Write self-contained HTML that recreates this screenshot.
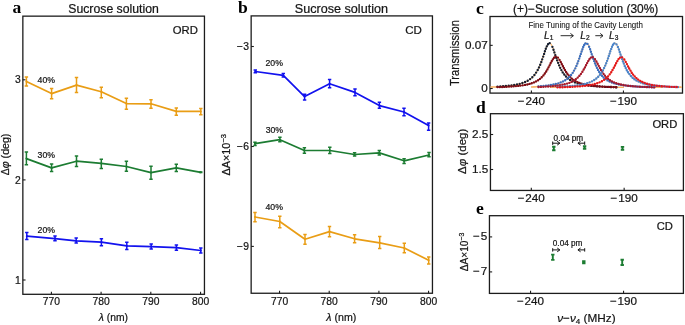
<!DOCTYPE html>
<html><head><meta charset="utf-8"><style>
html,body{margin:0;padding:0;background:#fff;width:685px;height:325px;overflow:hidden;}
svg{display:block;will-change:transform;}
text{font-family:"Liberation Sans",sans-serif;fill:#151515;stroke:#151515;stroke-width:0.22px;}
text.lbl{font-family:"Liberation Serif",serif;font-weight:bold;fill:#000;stroke:none;}
</style></head><body>
<svg width="685" height="325" viewBox="0 0 685 325">
<rect x="22.85" y="16.15" width="181.60" height="278.15" fill="none" stroke="#1c1c1c" stroke-width="1.3"/>
<text x="12.4" y="12.9" font-size="17.6" text-anchor="start" class="lbl">a</text>
<text x="113.55" y="12.8" font-size="12.25" text-anchor="middle" >Sucrose solution</text>
<text x="197.9" y="33.8" font-size="11.3" text-anchor="end" >ORD</text>
<path d="M22.85,79.8H25.55" stroke="#1c1c1c" stroke-width="1.1"/>
<text x="20.65" y="83.40" font-size="10.3" text-anchor="end" >3</text>
<path d="M22.85,179.9H25.55" stroke="#1c1c1c" stroke-width="1.1"/>
<text x="20.65" y="183.50" font-size="10.3" text-anchor="end" >2</text>
<path d="M22.85,280.0H25.55" stroke="#1c1c1c" stroke-width="1.1"/>
<text x="20.65" y="283.60" font-size="10.3" text-anchor="end" >1</text>
<path d="M51.4,294.3V291.7" stroke="#1c1c1c" stroke-width="1.1"/>
<text x="51.4" y="305.3" font-size="10.3" text-anchor="middle" >770</text>
<path d="M101.1,294.3V291.7" stroke="#1c1c1c" stroke-width="1.1"/>
<text x="101.1" y="305.3" font-size="10.3" text-anchor="middle" >780</text>
<path d="M150.8,294.3V291.7" stroke="#1c1c1c" stroke-width="1.1"/>
<text x="150.8" y="305.3" font-size="10.3" text-anchor="middle" >790</text>
<path d="M200.55,294.3V291.7" stroke="#1c1c1c" stroke-width="1.1"/>
<text x="200.55" y="305.3" font-size="10.3" text-anchor="middle" >800</text>
<text x="113.35" y="320.7" font-size="10.3" text-anchor="middle" ><tspan font-style="italic">λ</tspan> (nm)</text>
<text transform="translate(9.3,154.5) rotate(-90)" font-size="10.6" text-anchor="middle">Δ<tspan font-style="italic">φ</tspan> (deg)</text>
<polyline points="26.40,81.50 51.60,93.60 76.50,85.10 101.30,91.80 126.40,103.60 151.00,103.80 176.30,111.40 200.80,111.40" fill="none" stroke="#E99D15" stroke-width="1.7" stroke-linejoin="round"/>
<path d="M26.40,77.00V86.10M24.70,77.00H28.10M24.70,86.10H28.10M51.60,88.50V98.70M49.90,88.50H53.30M49.90,98.70H53.30M76.50,77.60V92.40M74.80,77.60H78.20M74.80,92.40H78.20M101.30,87.20V97.70M99.60,87.20H103.00M99.60,97.70H103.00M126.40,98.20V109.20M124.70,98.20H128.10M124.70,109.20H128.10M151.00,99.70V108.20M149.30,99.70H152.70M149.30,108.20H152.70M176.30,107.90V115.30M174.60,107.90H178.00M174.60,115.30H178.00M200.80,108.40V114.80M199.10,108.40H202.50M199.10,114.80H202.50" fill="none" stroke="#E99D15" stroke-width="1.5"/>
<circle cx="26.40" cy="81.50" r="1.0" fill="#E99D15"/>
<circle cx="51.60" cy="93.60" r="1.0" fill="#E99D15"/>
<circle cx="76.50" cy="85.10" r="1.0" fill="#E99D15"/>
<circle cx="101.30" cy="91.80" r="1.0" fill="#E99D15"/>
<circle cx="126.40" cy="103.60" r="1.0" fill="#E99D15"/>
<circle cx="151.00" cy="103.80" r="1.0" fill="#E99D15"/>
<circle cx="176.30" cy="111.40" r="1.0" fill="#E99D15"/>
<circle cx="200.80" cy="111.40" r="1.0" fill="#E99D15"/>
<polyline points="26.40,158.60 51.60,167.90 76.50,161.20 101.30,163.40 126.40,166.50 151.00,172.60 176.30,167.80 200.80,172.30" fill="none" stroke="#1C7C32" stroke-width="1.7" stroke-linejoin="round"/>
<path d="M26.40,151.90V164.80M24.70,151.90H28.10M24.70,164.80H28.10M51.60,164.10V171.60M49.90,164.10H53.30M49.90,171.60H53.30M76.50,156.10V166.50M74.80,156.10H78.20M74.80,166.50H78.20M101.30,159.20V168.60M99.60,159.20H103.00M99.60,168.60H103.00M126.40,161.20V171.20M124.70,161.20H128.10M124.70,171.20H128.10M151.00,166.30V179.20M149.30,166.30H152.70M149.30,179.20H152.70M176.30,164.30V171.50M174.60,164.30H178.00M174.60,171.50H178.00M200.80,172.10V172.40M199.10,172.10H202.50M199.10,172.40H202.50" fill="none" stroke="#1C7C32" stroke-width="1.5"/>
<circle cx="26.40" cy="158.60" r="1.0" fill="#1C7C32"/>
<circle cx="51.60" cy="167.90" r="1.0" fill="#1C7C32"/>
<circle cx="76.50" cy="161.20" r="1.0" fill="#1C7C32"/>
<circle cx="101.30" cy="163.40" r="1.0" fill="#1C7C32"/>
<circle cx="126.40" cy="166.50" r="1.0" fill="#1C7C32"/>
<circle cx="151.00" cy="172.60" r="1.0" fill="#1C7C32"/>
<circle cx="176.30" cy="167.80" r="1.0" fill="#1C7C32"/>
<circle cx="200.80" cy="172.30" r="1.0" fill="#1C7C32"/>
<polyline points="26.80,236.20 55.00,238.60 76.20,240.80 101.40,242.20 126.80,245.90 151.20,246.60 176.40,247.60 200.80,250.50" fill="none" stroke="#1212EE" stroke-width="1.7" stroke-linejoin="round"/>
<path d="M26.80,232.60V239.40M25.10,232.60H28.50M25.10,239.40H28.50M55.00,235.90V240.70M53.30,235.90H56.70M53.30,240.70H56.70M76.20,238.00V242.90M74.50,238.00H77.90M74.50,242.90H77.90M101.40,238.80V245.70M99.70,238.80H103.10M99.70,245.70H103.10M126.80,242.20V249.40M125.10,242.20H128.50M125.10,249.40H128.50M151.20,243.90V249.10M149.50,243.90H152.90M149.50,249.10H152.90M176.40,245.10V250.30M174.70,245.10H178.10M174.70,250.30H178.10M200.80,248.00V253.10M199.10,248.00H202.50M199.10,253.10H202.50" fill="none" stroke="#1212EE" stroke-width="1.5"/>
<circle cx="26.80" cy="236.20" r="1.0" fill="#1212EE"/>
<circle cx="55.00" cy="238.60" r="1.0" fill="#1212EE"/>
<circle cx="76.20" cy="240.80" r="1.0" fill="#1212EE"/>
<circle cx="101.40" cy="242.20" r="1.0" fill="#1212EE"/>
<circle cx="126.80" cy="245.90" r="1.0" fill="#1212EE"/>
<circle cx="151.20" cy="246.60" r="1.0" fill="#1212EE"/>
<circle cx="176.40" cy="247.60" r="1.0" fill="#1212EE"/>
<circle cx="200.80" cy="250.50" r="1.0" fill="#1212EE"/>
<text x="37.6" y="83.0" font-size="8.7" text-anchor="start" >40%</text>
<text x="37.6" y="158.1" font-size="8.7" text-anchor="start" >30%</text>
<text x="37.6" y="233.4" font-size="8.7" text-anchor="start" >20%</text>
<rect x="251.15" y="15.9" width="181.30" height="277.35" fill="none" stroke="#1c1c1c" stroke-width="1.3"/>
<text x="237.9" y="13.2" font-size="17.6" text-anchor="start" class="lbl">b</text>
<text x="341.4" y="12.8" font-size="12.6" text-anchor="middle" >Sucrose solution</text>
<text x="421.9" y="33.9" font-size="11.5" text-anchor="end" >CD</text>
<path d="M251.15,46.5H253.85" stroke="#1c1c1c" stroke-width="1.1"/>
<text x="248.95" y="50.00" font-size="10.3" text-anchor="end" >−<tspan dx="0.8">3</tspan></text>
<path d="M251.15,146.5H253.85" stroke="#1c1c1c" stroke-width="1.1"/>
<text x="248.95" y="150.00" font-size="10.3" text-anchor="end" >−<tspan dx="0.8">6</tspan></text>
<path d="M251.15,246.4H253.85" stroke="#1c1c1c" stroke-width="1.1"/>
<text x="248.95" y="249.90" font-size="10.3" text-anchor="end" >−<tspan dx="0.8">9</tspan></text>
<path d="M279.55,293.25V290.65" stroke="#1c1c1c" stroke-width="1.1"/>
<text x="279.55" y="305.3" font-size="10.3" text-anchor="middle" >770</text>
<path d="M329.2,293.25V290.65" stroke="#1c1c1c" stroke-width="1.1"/>
<text x="329.2" y="305.3" font-size="10.3" text-anchor="middle" >780</text>
<path d="M378.9,293.25V290.65" stroke="#1c1c1c" stroke-width="1.1"/>
<text x="378.9" y="305.3" font-size="10.3" text-anchor="middle" >790</text>
<path d="M428.55,293.25V290.65" stroke="#1c1c1c" stroke-width="1.1"/>
<text x="428.55" y="305.3" font-size="10.3" text-anchor="middle" >800</text>
<text x="341.3" y="320.8" font-size="10.6" text-anchor="middle" ><tspan font-style="italic">λ</tspan> (nm)</text>
<text transform="translate(230.4,175.6) rotate(-90)" font-size="10.9">ΔA×10<tspan font-size="7.6" dy="-4.2">−3</tspan></text>
<polyline points="255.30,71.50 283.30,75.40 304.60,96.60 329.60,83.80 355.00,92.40 379.40,105.60 404.00,112.00 428.60,125.60" fill="none" stroke="#1212EE" stroke-width="1.7" stroke-linejoin="round"/>
<path d="M255.30,70.10V72.70M253.60,70.10H257.00M253.60,72.70H257.00M283.30,73.50V76.90M281.60,73.50H285.00M281.60,76.90H285.00M304.60,94.30V100.00M302.90,94.30H306.30M302.90,100.00H306.30M329.60,79.40V87.70M327.90,79.40H331.30M327.90,87.70H331.30M355.00,89.10V95.70M353.30,89.10H356.70M353.30,95.70H356.70M379.40,102.30V108.30M377.70,102.30H381.10M377.70,108.30H381.10M404.00,108.30V115.70M402.30,108.30H405.70M402.30,115.70H405.70M428.60,123.10V130.30M426.90,123.10H430.30M426.90,130.30H430.30" fill="none" stroke="#1212EE" stroke-width="1.5"/>
<circle cx="255.30" cy="71.50" r="1.0" fill="#1212EE"/>
<circle cx="283.30" cy="75.40" r="1.0" fill="#1212EE"/>
<circle cx="304.60" cy="96.60" r="1.0" fill="#1212EE"/>
<circle cx="329.60" cy="83.80" r="1.0" fill="#1212EE"/>
<circle cx="355.00" cy="92.40" r="1.0" fill="#1212EE"/>
<circle cx="379.40" cy="105.60" r="1.0" fill="#1212EE"/>
<circle cx="404.00" cy="112.00" r="1.0" fill="#1212EE"/>
<circle cx="428.60" cy="125.60" r="1.0" fill="#1212EE"/>
<polyline points="255.00,143.70 279.90,139.70 304.40,150.50 329.80,150.50 354.60,154.50 379.30,152.90 404.10,160.80 429.00,155.00" fill="none" stroke="#1C7C32" stroke-width="1.7" stroke-linejoin="round"/>
<path d="M255.00,142.30V145.40M253.30,142.30H256.70M253.30,145.40H256.70M279.90,137.30V141.80M278.20,137.30H281.60M278.20,141.80H281.60M304.40,147.80V153.20M302.70,147.80H306.10M302.70,153.20H306.10M329.80,147.30V153.50M328.10,147.30H331.50M328.10,153.50H331.50M354.60,152.80V156.00M352.90,152.80H356.30M352.90,156.00H356.30M379.30,150.50V155.00M377.60,150.50H381.00M377.60,155.00H381.00M404.10,158.80V163.40M402.40,158.80H405.80M402.40,163.40H405.80M429.00,152.60V156.80M427.30,152.60H430.70M427.30,156.80H430.70" fill="none" stroke="#1C7C32" stroke-width="1.5"/>
<circle cx="255.00" cy="143.70" r="1.0" fill="#1C7C32"/>
<circle cx="279.90" cy="139.70" r="1.0" fill="#1C7C32"/>
<circle cx="304.40" cy="150.50" r="1.0" fill="#1C7C32"/>
<circle cx="329.80" cy="150.50" r="1.0" fill="#1C7C32"/>
<circle cx="354.60" cy="154.50" r="1.0" fill="#1C7C32"/>
<circle cx="379.30" cy="152.90" r="1.0" fill="#1C7C32"/>
<circle cx="404.10" cy="160.80" r="1.0" fill="#1C7C32"/>
<circle cx="429.00" cy="155.00" r="1.0" fill="#1C7C32"/>
<polyline points="255.00,217.00 279.80,221.50 305.00,239.20 329.50,231.60 354.60,238.80 379.70,242.80 404.30,248.00 428.70,260.30" fill="none" stroke="#E99D15" stroke-width="1.7" stroke-linejoin="round"/>
<path d="M255.00,212.50V221.70M253.30,212.50H256.70M253.30,221.70H256.70M279.80,216.20V227.70M278.10,216.20H281.50M278.10,227.70H281.50M305.00,234.50V244.30M303.30,234.50H306.70M303.30,244.30H306.70M329.50,226.50V236.70M327.80,226.50H331.20M327.80,236.70H331.20M354.60,234.80V242.80M352.90,234.80H356.30M352.90,242.80H356.30M379.70,236.50V248.50M378.00,236.50H381.40M378.00,248.50H381.40M404.30,243.30V252.70M402.60,243.30H406.00M402.60,252.70H406.00M428.70,257.10V263.90M427.00,257.10H430.40M427.00,263.90H430.40" fill="none" stroke="#E99D15" stroke-width="1.5"/>
<circle cx="255.00" cy="217.00" r="1.0" fill="#E99D15"/>
<circle cx="279.80" cy="221.50" r="1.0" fill="#E99D15"/>
<circle cx="305.00" cy="239.20" r="1.0" fill="#E99D15"/>
<circle cx="329.50" cy="231.60" r="1.0" fill="#E99D15"/>
<circle cx="354.60" cy="238.80" r="1.0" fill="#E99D15"/>
<circle cx="379.70" cy="242.80" r="1.0" fill="#E99D15"/>
<circle cx="404.30" cy="248.00" r="1.0" fill="#E99D15"/>
<circle cx="428.70" cy="260.30" r="1.0" fill="#E99D15"/>
<text x="265.5" y="66.3" font-size="8.7" text-anchor="start" >20%</text>
<text x="265.7" y="132.8" font-size="8.7" text-anchor="start" >30%</text>
<text x="265.5" y="209.6" font-size="8.7" text-anchor="start" >40%</text>
<rect x="490.0" y="16.5" width="192.50" height="76.60" fill="none" stroke="#1c1c1c" stroke-width="1.3"/>
<text x="476.0" y="14.0" font-size="17.6" text-anchor="start" class="lbl">c</text>
<text x="585.65" y="12.5" font-size="11.95" text-anchor="middle" >(+)−Sucrose solution (30%)</text>
<text transform="translate(459.4,53.05) rotate(-90) scale(0.89,1)" font-size="12.6" text-anchor="middle">Transmission</text>
<path d="M490.0,45.35H492.7" stroke="#1c1c1c" stroke-width="1.1"/>
<text x="487.80" y="48.65" font-size="11.7" text-anchor="end" >0.07</text>
<path d="M490.0,88.5H492.7" stroke="#1c1c1c" stroke-width="1.1"/>
<text x="487.80" y="91.80" font-size="11.7" text-anchor="end" >0</text>
<path d="M531.4,93.1V90.5" stroke="#1c1c1c" stroke-width="1.1"/>
<text x="531.4" y="104.9" font-size="11.7" text-anchor="middle" >−<tspan dx="0.8">240</tspan></text>
<path d="M623.45,93.1V90.5" stroke="#1c1c1c" stroke-width="1.1"/>
<text x="623.45" y="104.9" font-size="11.7" text-anchor="middle" >−<tspan dx="0.8">190</tspan></text>
<text x="585.7" y="27.6" font-size="8.4" text-anchor="middle" textLength="114.4" lengthAdjust="spacingAndGlyphs" style="stroke-width:0.08px">Fine Tuning of the Cavity Length</text>
<text x="544.0" y="38.9" font-size="10" font-style="italic">L<tspan font-size="6.6" dy="1.3" dx="0.2" font-style="normal">1</tspan></text>
<text x="580.2" y="38.9" font-size="10" font-style="italic">L<tspan font-size="6.6" dy="1.3" dx="0.2" font-style="normal">2</tspan></text>
<text x="609.1" y="38.9" font-size="10" font-style="italic">L<tspan font-size="6.6" dy="1.3" dx="0.2" font-style="normal">3</tspan></text>
<path d="M560.6,35.7H573.2M570.4,33.4L573.4,35.7L570.4,38" stroke="#151515" stroke-width="0.9" fill="none"/>
<path d="M595.3,35.7H602.8M600.2,33.4L603,35.7L600.2,38" stroke="#151515" stroke-width="0.9" fill="none"/>
<clipPath id="cc"><rect x="490.6" y="17.1" width="191.3" height="75.39999999999999"/></clipPath><g clip-path="url(#cc)">
<polyline points="490.0,86.93 490.5,86.92 491.0,86.90 491.5,86.88 492.0,86.85 492.5,86.83 493.0,86.81 493.5,86.79 494.0,86.77 494.5,86.74 495.0,86.72 495.5,86.69 496.0,86.67 496.5,86.64 497.0,86.61 497.5,86.59 498.0,86.56 498.5,86.53 499.0,86.50 499.5,86.47 500.0,86.44 500.5,86.40 501.0,86.37 501.5,86.33 502.0,86.30 502.5,86.26 503.0,86.22 503.5,86.18 504.0,86.14 504.5,86.10 505.0,86.06 505.5,86.01 506.0,85.97 506.5,85.92 507.0,85.87 507.5,85.82 508.0,85.77 508.5,85.71 509.0,85.66 509.5,85.60 510.0,85.54 510.5,85.48 511.0,85.41 511.5,85.35 512.0,85.28 512.5,85.21 513.0,85.13 513.5,85.05 514.0,84.97 514.5,84.89 515.0,84.80 515.5,84.71 516.0,84.62 516.5,84.52 517.0,84.42 517.5,84.31 518.0,84.20 518.5,84.09 519.0,83.97 519.5,83.84 520.0,83.71 520.5,83.57 521.0,83.43 521.5,83.28 522.0,83.12 522.5,82.96 523.0,82.78 523.5,82.60 524.0,82.41 524.5,82.21 525.0,82.00 525.5,81.78 526.0,81.55 526.5,81.30 527.0,81.05 527.5,80.78 528.0,80.49 528.5,80.19 529.0,79.87 529.5,79.53 530.0,79.17 530.5,78.80 531.0,78.40 531.5,77.97 532.0,77.52 532.5,77.05 533.0,76.54 533.5,76.01 534.0,75.44 534.5,74.83 535.0,74.19 535.5,73.50 536.0,72.78 536.5,72.01 537.0,71.19 537.5,70.32 538.0,69.39 538.5,68.41 539.0,67.38 539.5,66.29 540.0,65.13 540.5,63.92 541.0,62.65 541.5,61.32 542.0,59.94 542.5,58.51 543.0,57.04 543.5,55.55 544.0,54.05 544.5,52.55 545.0,51.07 545.5,49.64 546.0,48.28 546.5,47.03 547.0,45.90 547.5,44.94 548.0,44.15 548.5,43.57 549.0,43.22 549.5,43.10 550.0,43.22 550.5,43.57 551.0,44.15 551.5,44.94 552.0,45.90 552.5,47.03 553.0,48.28 553.5,49.64 554.0,51.07 554.5,52.55 555.0,54.05 555.5,55.55 556.0,57.04 556.5,58.51 557.0,59.94 557.5,61.32 558.0,62.65 558.5,63.92 559.0,65.13 559.5,66.29 560.0,67.38 560.5,68.41 561.0,69.39 561.5,70.32 562.0,71.19 562.5,72.01 563.0,72.78 563.5,73.50 564.0,74.19 564.5,74.83 565.0,75.44 565.5,76.01 566.0,76.54 566.5,77.05 567.0,77.52 567.5,77.97 568.0,78.40 568.5,78.80 569.0,79.17 569.5,79.53 570.0,79.87 570.5,80.19 571.0,80.49 571.5,80.78 572.0,81.05 572.5,81.30 573.0,81.55 573.5,81.78 574.0,82.00 574.5,82.21 575.0,82.41 575.5,82.60 576.0,82.78 576.5,82.96 577.0,83.12 577.5,83.28 578.0,83.43 578.5,83.57 579.0,83.71 579.5,83.84 580.0,83.97 580.5,84.09 581.0,84.20 581.5,84.31 582.0,84.42 582.5,84.52 583.0,84.62 583.5,84.71 584.0,84.80 584.5,84.89 585.0,84.97 585.5,85.05 586.0,85.13 586.5,85.21 587.0,85.28 587.5,85.35 588.0,85.41 588.5,85.48 589.0,85.54 589.5,85.60 590.0,85.66 590.5,85.71 591.0,85.77 591.5,85.82 592.0,85.87 592.5,85.92 593.0,85.97 593.5,86.01 594.0,86.06 594.5,86.10 595.0,86.14 595.5,86.18 596.0,86.22 596.5,86.26 597.0,86.30 597.5,86.33 598.0,86.37 598.5,86.40 599.0,86.44 599.5,86.47 600.0,86.50 600.5,86.53 601.0,86.56 601.5,86.59 602.0,86.61 602.5,86.64 603.0,86.67 603.5,86.69 604.0,86.72 604.5,86.74 605.0,86.77 605.5,86.79 606.0,86.81 606.5,86.83 607.0,86.85 607.5,86.88 608.0,86.90 608.5,86.92 609.0,86.93 609.5,86.95 610.0,86.97 610.5,86.99 611.0,87.01 611.5,87.02 612.0,87.04 612.5,87.06 613.0,87.07 613.5,87.09 614.0,87.10 614.5,87.12 615.0,87.13 615.5,87.15 616.0,87.16 616.5,87.18 617.0,87.19 617.5,87.20 618.0,87.22 618.5,87.23 619.0,87.24 619.5,87.25 620.0,87.26 620.5,87.28 621.0,87.29 621.5,87.30 622.0,87.31 622.5,87.32 623.0,87.33 623.5,87.34 624.0,87.35" fill="none" stroke="#f7b46a" stroke-width="1.1"/>
<polyline points="490.0,87.34 490.5,87.33 491.0,87.31 491.5,87.30 492.0,87.29 492.5,87.28 493.0,87.26 493.5,87.25 494.0,87.24 494.5,87.22 495.0,87.21 495.5,87.20 496.0,87.18 496.5,87.17 497.0,87.15 497.5,87.13 498.0,87.12 498.5,87.10 499.0,87.09 499.5,87.07 500.0,87.05 500.5,87.03 501.0,87.01 501.5,86.99 502.0,86.97 502.5,86.95 503.0,86.93 503.5,86.91 504.0,86.89 504.5,86.87 505.0,86.84 505.5,86.82 506.0,86.79 506.5,86.77 507.0,86.74 507.5,86.72 508.0,86.69 508.5,86.66 509.0,86.63 509.5,86.60 510.0,86.57 510.5,86.54 511.0,86.50 511.5,86.47 512.0,86.43 512.5,86.40 513.0,86.36 513.5,86.32 514.0,86.28 514.5,86.24 515.0,86.20 515.5,86.15 516.0,86.11 516.5,86.06 517.0,86.01 517.5,85.96 518.0,85.90 518.5,85.85 519.0,85.79 519.5,85.73 520.0,85.67 520.5,85.61 521.0,85.54 521.5,85.48 522.0,85.40 522.5,85.33 523.0,85.25 523.5,85.17 524.0,85.09 524.5,85.00 525.0,84.91 525.5,84.82 526.0,84.72 526.5,84.62 527.0,84.51 527.5,84.40 528.0,84.28 528.5,84.16 529.0,84.03 529.5,83.90 530.0,83.76 530.5,83.61 531.0,83.45 531.5,83.29 532.0,83.12 532.5,82.94 533.0,82.75 533.5,82.55 534.0,82.35 534.5,82.13 535.0,81.90 535.5,81.65 536.0,81.40 536.5,81.12 537.0,80.84 537.5,80.54 538.0,80.22 538.5,79.88 539.0,79.52 539.5,79.14 540.0,78.74 540.5,78.32 541.0,77.87 541.5,77.40 542.0,76.90 542.5,76.37 543.0,75.81 543.5,75.21 544.0,74.59 544.5,73.93 545.0,73.23 545.5,72.50 546.0,71.73 546.5,70.93 547.0,70.09 547.5,69.22 548.0,68.31 548.5,67.38 549.0,66.42 549.5,65.45 550.0,64.47 550.5,63.48 551.0,62.51 551.5,61.57 552.0,60.66 552.5,59.80 553.0,59.02 553.5,58.32 554.0,57.72 554.5,57.24 555.0,56.89 555.5,56.67 556.0,56.60 556.5,56.67 557.0,56.89 557.5,57.24 558.0,57.72 558.5,58.32 559.0,59.02 559.5,59.80 560.0,60.66 560.5,61.57 561.0,62.51 561.5,63.48 562.0,64.47 562.5,65.45 563.0,66.42 563.5,67.38 564.0,68.31 564.5,69.22 565.0,70.09 565.5,70.93 566.0,71.73 566.5,72.50 567.0,73.23 567.5,73.93 568.0,74.59 568.5,75.21 569.0,75.81 569.5,76.37 570.0,76.90 570.5,77.40 571.0,77.87 571.5,78.32 572.0,78.74 572.5,79.14 573.0,79.52 573.5,79.88 574.0,80.22 574.5,80.54 575.0,80.84 575.5,81.12 576.0,81.40 576.5,81.65 577.0,81.90 577.5,82.13 578.0,82.35 578.5,82.55 579.0,82.75 579.5,82.94 580.0,83.12 580.5,83.29 581.0,83.45 581.5,83.61 582.0,83.76 582.5,83.90 583.0,84.03 583.5,84.16 584.0,84.28 584.5,84.40 585.0,84.51 585.5,84.62 586.0,84.72 586.5,84.82 587.0,84.91 587.5,85.00 588.0,85.09 588.5,85.17 589.0,85.25 589.5,85.33 590.0,85.40 590.5,85.48 591.0,85.54 591.5,85.61 592.0,85.67 592.5,85.73 593.0,85.79 593.5,85.85 594.0,85.90 594.5,85.96 595.0,86.01 595.5,86.06 596.0,86.11 596.5,86.15 597.0,86.20 597.5,86.24 598.0,86.28 598.5,86.32 599.0,86.36 599.5,86.40 600.0,86.43 600.5,86.47 601.0,86.50 601.5,86.54 602.0,86.57 602.5,86.60 603.0,86.63 603.5,86.66 604.0,86.69 604.5,86.72 605.0,86.74 605.5,86.77 606.0,86.79 606.5,86.82 607.0,86.84 607.5,86.87 608.0,86.89 608.5,86.91 609.0,86.93 609.5,86.95 610.0,86.97 610.5,86.99 611.0,87.01 611.5,87.03 612.0,87.05 612.5,87.07 613.0,87.09 613.5,87.10 614.0,87.12 614.5,87.13 615.0,87.15 615.5,87.17 616.0,87.18 616.5,87.20 617.0,87.21 617.5,87.22 618.0,87.24 618.5,87.25 619.0,87.26 619.5,87.28 620.0,87.29 620.5,87.30 621.0,87.31 621.5,87.33 622.0,87.34 622.5,87.35 623.0,87.36 623.5,87.37 624.0,87.38" fill="none" stroke="#f7b46a" stroke-width="1.1"/>
<polyline points="531.0,86.75 531.5,86.73 532.0,86.70 532.5,86.68 533.0,86.65 533.5,86.63 534.0,86.60 534.5,86.57 535.0,86.54 535.5,86.51 536.0,86.48 536.5,86.45 537.0,86.42 537.5,86.38 538.0,86.35 538.5,86.31 539.0,86.28 539.5,86.24 540.0,86.20 540.5,86.16 541.0,86.12 541.5,86.08 542.0,86.03 542.5,85.99 543.0,85.94 543.5,85.89 544.0,85.84 544.5,85.79 545.0,85.74 545.5,85.68 546.0,85.62 546.5,85.56 547.0,85.50 547.5,85.44 548.0,85.37 548.5,85.31 549.0,85.24 549.5,85.16 550.0,85.09 550.5,85.01 551.0,84.92 551.5,84.84 552.0,84.75 552.5,84.66 553.0,84.56 553.5,84.46 554.0,84.36 554.5,84.25 555.0,84.13 555.5,84.02 556.0,83.89 556.5,83.76 557.0,83.63 557.5,83.49 558.0,83.34 558.5,83.18 559.0,83.02 559.5,82.85 560.0,82.68 560.5,82.49 561.0,82.29 561.5,82.09 562.0,81.87 562.5,81.64 563.0,81.40 563.5,81.15 564.0,80.89 564.5,80.61 565.0,80.31 565.5,80.00 566.0,79.67 566.5,79.32 567.0,78.95 567.5,78.56 568.0,78.15 568.5,77.71 569.0,77.24 569.5,76.75 570.0,76.22 570.5,75.67 571.0,75.08 571.5,74.45 572.0,73.78 572.5,73.07 573.0,72.32 573.5,71.52 574.0,70.67 574.5,69.77 575.0,68.81 575.5,67.80 576.0,66.73 576.5,65.60 577.0,64.41 577.5,63.16 578.0,61.86 578.5,60.50 579.0,59.09 579.5,57.63 580.0,56.15 580.5,54.65 581.0,53.15 581.5,51.66 582.0,50.20 582.5,48.82 583.0,47.52 583.5,46.34 584.0,45.30 584.5,44.44 585.0,43.78 585.5,43.33 586.0,43.12 586.5,43.14 587.0,43.40 587.5,43.89 588.0,44.60 588.5,45.50 589.0,46.56 589.5,47.77 590.0,49.09 590.5,50.49 591.0,51.95 591.5,53.45 592.0,54.95 592.5,56.45 593.0,57.93 593.5,59.37 594.0,60.77 594.5,62.12 595.0,63.42 595.5,64.65 596.0,65.83 596.5,66.95 597.0,68.01 597.5,69.01 598.0,69.95 598.5,70.84 599.0,71.68 599.5,72.48 600.0,73.22 600.5,73.92 601.0,74.58 601.5,75.20 602.0,75.78 602.5,76.33 603.0,76.85 603.5,77.34 604.0,77.80 604.5,78.23 605.0,78.64 605.5,79.03 606.0,79.39 606.5,79.74 607.0,80.06 607.5,80.37 608.0,80.66 608.5,80.94 609.0,81.20 609.5,81.45 610.0,81.69 610.5,81.92 611.0,82.13 611.5,82.33 612.0,82.53 612.5,82.71 613.0,82.89 613.5,83.06 614.0,83.22 614.5,83.37 615.0,83.52 615.5,83.66 616.0,83.79 616.5,83.92 617.0,84.04 617.5,84.16 618.0,84.27 618.5,84.38 619.0,84.48 619.5,84.58 620.0,84.68 620.5,84.77 621.0,84.86 621.5,84.94 622.0,85.02 622.5,85.10 623.0,85.18 623.5,85.25 624.0,85.32 624.5,85.39 625.0,85.45 625.5,85.52 626.0,85.58 626.5,85.64 627.0,85.69 627.5,85.75 628.0,85.80 628.5,85.85 629.0,85.90 629.5,85.95 630.0,86.00 630.5,86.04 631.0,86.08 631.5,86.13 632.0,86.17 632.5,86.21 633.0,86.25 633.5,86.28 634.0,86.32 634.5,86.36 635.0,86.39 635.5,86.42 636.0,86.46 636.5,86.49 637.0,86.52 637.5,86.55 638.0,86.58 638.5,86.60 639.0,86.63 639.5,86.66 640.0,86.68 640.5,86.71 641.0,86.73 641.5,86.76 642.0,86.78 642.5,86.80 643.0,86.82 643.5,86.85 644.0,86.87 644.5,86.89 645.0,86.91 645.5,86.93 646.0,86.95 646.5,86.96 647.0,86.98 647.5,87.00 648.0,87.02 648.5,87.03 649.0,87.05 649.5,87.07 650.0,87.08 650.5,87.10 651.0,87.11 651.5,87.13 652.0,87.14 652.5,87.16 653.0,87.17 653.5,87.18 654.0,87.20 654.5,87.21 655.0,87.22 655.5,87.24 656.0,87.25 656.5,87.26 657.0,87.27 657.5,87.28 658.0,87.29 658.5,87.30 659.0,87.32 659.5,87.33 660.0,87.34 660.5,87.35 661.0,87.36 661.5,87.37 662.0,87.37 662.5,87.38 663.0,87.39" fill="none" stroke="#f7b46a" stroke-width="1.1"/>
<polyline points="531.0,87.23 531.5,87.22 532.0,87.20 532.5,87.19 533.0,87.17 533.5,87.16 534.0,87.14 534.5,87.12 535.0,87.11 535.5,87.09 536.0,87.07 536.5,87.06 537.0,87.04 537.5,87.02 538.0,87.00 538.5,86.98 539.0,86.96 539.5,86.94 540.0,86.92 540.5,86.89 541.0,86.87 541.5,86.85 542.0,86.82 542.5,86.80 543.0,86.77 543.5,86.75 544.0,86.72 544.5,86.69 545.0,86.66 545.5,86.64 546.0,86.60 546.5,86.57 547.0,86.54 547.5,86.51 548.0,86.47 548.5,86.44 549.0,86.40 549.5,86.36 550.0,86.33 550.5,86.28 551.0,86.24 551.5,86.20 552.0,86.16 552.5,86.11 553.0,86.06 553.5,86.01 554.0,85.96 554.5,85.91 555.0,85.85 555.5,85.80 556.0,85.74 556.5,85.67 557.0,85.61 557.5,85.54 558.0,85.48 558.5,85.40 559.0,85.33 559.5,85.25 560.0,85.17 560.5,85.09 561.0,85.00 561.5,84.91 562.0,84.81 562.5,84.71 563.0,84.61 563.5,84.50 564.0,84.39 564.5,84.27 565.0,84.15 565.5,84.02 566.0,83.88 566.5,83.74 567.0,83.59 567.5,83.43 568.0,83.27 568.5,83.09 569.0,82.91 569.5,82.72 570.0,82.52 570.5,82.31 571.0,82.09 571.5,81.85 572.0,81.60 572.5,81.34 573.0,81.07 573.5,80.78 574.0,80.47 574.5,80.14 575.0,79.80 575.5,79.44 576.0,79.05 576.5,78.65 577.0,78.22 577.5,77.76 578.0,77.28 578.5,76.77 579.0,76.23 579.5,75.66 580.0,75.05 580.5,74.42 581.0,73.75 581.5,73.04 582.0,72.30 582.5,71.52 583.0,70.71 583.5,69.86 584.0,68.98 584.5,68.08 585.0,67.14 585.5,66.19 586.0,65.23 586.5,64.26 587.0,63.30 587.5,62.36 588.0,61.45 588.5,60.58 589.0,59.78 589.5,59.06 590.0,58.43 590.5,57.91 591.0,57.51 591.5,57.24 592.0,57.11 592.5,57.13 593.0,57.28 593.5,57.58 594.0,58.00 594.5,58.55 595.0,59.20 595.5,59.94 596.0,60.75 596.5,61.63 597.0,62.54 597.5,63.49 598.0,64.45 598.5,65.42 599.0,66.38 599.5,67.33 600.0,68.26 600.5,69.16 601.0,70.03 601.5,70.87 602.0,71.68 602.5,72.45 603.0,73.18 603.5,73.88 604.0,74.55 604.5,75.18 605.0,75.77 605.5,76.34 606.0,76.87 606.5,77.38 607.0,77.85 607.5,78.30 608.0,78.73 608.5,79.13 609.0,79.51 609.5,79.87 610.0,80.21 610.5,80.53 611.0,80.84 611.5,81.12 612.0,81.40 612.5,81.66 613.0,81.90 613.5,82.13 614.0,82.35 614.5,82.56 615.0,82.76 615.5,82.95 616.0,83.13 616.5,83.30 617.0,83.46 617.5,83.62 618.0,83.77 618.5,83.91 619.0,84.04 619.5,84.17 620.0,84.29 620.5,84.41 621.0,84.52 621.5,84.63 622.0,84.73 622.5,84.83 623.0,84.93 623.5,85.02 624.0,85.10 624.5,85.19 625.0,85.27 625.5,85.35 626.0,85.42 626.5,85.49 627.0,85.56 627.5,85.62 628.0,85.69 628.5,85.75 629.0,85.81 629.5,85.86 630.0,85.92 630.5,85.97 631.0,86.02 631.5,86.07 632.0,86.12 632.5,86.16 633.0,86.21 633.5,86.25 634.0,86.29 634.5,86.33 635.0,86.37 635.5,86.41 636.0,86.45 636.5,86.48 637.0,86.51 637.5,86.55 638.0,86.58 638.5,86.61 639.0,86.64 639.5,86.67 640.0,86.70 640.5,86.73 641.0,86.75 641.5,86.78 642.0,86.80 642.5,86.83 643.0,86.85 643.5,86.88 644.0,86.90 644.5,86.92 645.0,86.94 645.5,86.96 646.0,86.98 646.5,87.00 647.0,87.02 647.5,87.04 648.0,87.06 648.5,87.08 649.0,87.09 649.5,87.11 650.0,87.13 650.5,87.14 651.0,87.16 651.5,87.17 652.0,87.19 652.5,87.20 653.0,87.22 653.5,87.23 654.0,87.25 654.5,87.26 655.0,87.27 655.5,87.29 656.0,87.30 656.5,87.31 657.0,87.32 657.5,87.33 658.0,87.34 658.5,87.36 659.0,87.37 659.5,87.38 660.0,87.39 660.5,87.40 661.0,87.41 661.5,87.42 662.0,87.43 662.5,87.44 663.0,87.45" fill="none" stroke="#f7b46a" stroke-width="1.1"/>
<polyline points="550.0,87.12 550.5,87.10 551.0,87.09 551.5,87.07 552.0,87.05 552.5,87.04 553.0,87.02 553.5,87.00 554.0,86.99 554.5,86.97 555.0,86.95 555.5,86.93 556.0,86.91 556.5,86.89 557.0,86.87 557.5,86.85 558.0,86.83 558.5,86.81 559.0,86.78 559.5,86.76 560.0,86.74 560.5,86.71 561.0,86.69 561.5,86.66 562.0,86.64 562.5,86.61 563.0,86.58 563.5,86.55 564.0,86.52 564.5,86.49 565.0,86.46 565.5,86.43 566.0,86.40 566.5,86.36 567.0,86.33 567.5,86.29 568.0,86.25 568.5,86.22 569.0,86.18 569.5,86.14 570.0,86.09 570.5,86.05 571.0,86.01 571.5,85.96 572.0,85.91 572.5,85.86 573.0,85.81 573.5,85.76 574.0,85.70 574.5,85.65 575.0,85.59 575.5,85.53 576.0,85.47 576.5,85.40 577.0,85.33 577.5,85.26 578.0,85.19 578.5,85.12 579.0,85.04 579.5,84.96 580.0,84.87 580.5,84.79 581.0,84.69 581.5,84.60 582.0,84.50 582.5,84.40 583.0,84.29 583.5,84.18 584.0,84.06 584.5,83.94 585.0,83.81 585.5,83.68 586.0,83.54 586.5,83.40 587.0,83.25 587.5,83.09 588.0,82.92 588.5,82.75 589.0,82.56 589.5,82.37 590.0,82.17 590.5,81.96 591.0,81.74 591.5,81.50 592.0,81.25 592.5,80.99 593.0,80.72 593.5,80.43 594.0,80.12 594.5,79.80 595.0,79.46 595.5,79.10 596.0,78.72 596.5,78.31 597.0,77.89 597.5,77.43 598.0,76.95 598.5,76.44 599.0,75.89 599.5,75.32 600.0,74.71 600.5,74.05 601.0,73.36 601.5,72.63 602.0,71.85 602.5,71.02 603.0,70.14 603.5,69.20 604.0,68.21 604.5,67.17 605.0,66.06 605.5,64.89 606.0,63.67 606.5,62.38 607.0,61.05 607.5,59.65 608.0,58.22 608.5,56.75 609.0,55.25 609.5,53.75 610.0,52.25 610.5,50.78 611.0,49.36 611.5,48.02 612.0,46.79 612.5,45.70 613.0,44.76 613.5,44.02 614.0,43.48 614.5,43.18 615.0,43.10 615.5,43.27 616.0,43.67 616.5,44.29 617.0,45.11 617.5,46.12 618.0,47.27 618.5,48.55 619.0,49.92 619.5,51.36 620.0,52.85 620.5,54.35 621.0,55.85 621.5,57.34 622.0,58.80 622.5,60.22 623.0,61.59 623.5,62.90 624.0,64.17 624.5,65.37 625.0,66.51 625.5,67.59 626.0,68.62 626.5,69.58 627.0,70.49 627.5,71.35 628.0,72.16 628.5,72.93 629.0,73.64 629.5,74.32 630.0,74.95 630.5,75.55 631.0,76.12 631.5,76.65 632.0,77.15 632.5,77.62 633.0,78.06 633.5,78.48 634.0,78.87 634.5,79.25 635.0,79.60 635.5,79.93 636.0,80.25 636.5,80.55 637.0,80.83 637.5,81.10 638.0,81.35 638.5,81.60 639.0,81.83 639.5,82.04 640.0,82.25 640.5,82.45 641.0,82.64 641.5,82.82 642.0,82.99 642.5,83.15 643.0,83.31 643.5,83.46 644.0,83.60 644.5,83.74 645.0,83.87 645.5,83.99 646.0,84.11 646.5,84.22 647.0,84.33 647.5,84.44 648.0,84.54 648.5,84.64 649.0,84.73 649.5,84.82 650.0,84.91 650.5,84.99 651.0,85.07 651.5,85.15 652.0,85.22 652.5,85.29 653.0,85.36 653.5,85.43 654.0,85.49 654.5,85.55 655.0,85.61 655.5,85.67 656.0,85.73 656.5,85.78 657.0,85.83 657.5,85.88 658.0,85.93 658.5,85.98 659.0,86.02 659.5,86.07 660.0,86.11 660.5,86.15 661.0,86.19 661.5,86.23 662.0,86.27 662.5,86.31 663.0,86.34 663.5,86.38 664.0,86.41 664.5,86.44 665.0,86.47 665.5,86.50 666.0,86.53 666.5,86.56 667.0,86.59 667.5,86.62 668.0,86.65 668.5,86.67 669.0,86.70 669.5,86.72 670.0,86.75 670.5,86.77 671.0,86.79 671.5,86.82 672.0,86.84 672.5,86.86 673.0,86.88 673.5,86.90 674.0,86.92 674.5,86.94 675.0,86.96 675.5,86.98 676.0,86.99 676.5,87.01 677.0,87.03 677.5,87.04 678.0,87.06 678.5,87.08 679.0,87.09 679.5,87.11 680.0,87.12 680.5,87.14 681.0,87.15 681.5,87.17 682.0,87.18 682.5,87.19 683.0,87.21 683.5,87.22 684.0,87.23 684.5,87.24 685.0,87.25" fill="none" stroke="#f7b46a" stroke-width="1.1"/>
<polyline points="550.0,87.45 550.5,87.45 551.0,87.44 551.5,87.43 552.0,87.42 552.5,87.41 553.0,87.40 553.5,87.39 554.0,87.38 554.5,87.37 555.0,87.36 555.5,87.34 556.0,87.33 556.5,87.32 557.0,87.31 557.5,87.30 558.0,87.29 558.5,87.27 559.0,87.26 559.5,87.25 560.0,87.23 560.5,87.22 561.0,87.20 561.5,87.19 562.0,87.17 562.5,87.16 563.0,87.14 563.5,87.13 564.0,87.11 564.5,87.09 565.0,87.08 565.5,87.06 566.0,87.04 566.5,87.02 567.0,87.00 567.5,86.98 568.0,86.96 568.5,86.94 569.0,86.92 569.5,86.90 570.0,86.88 570.5,86.85 571.0,86.83 571.5,86.80 572.0,86.78 572.5,86.75 573.0,86.73 573.5,86.70 574.0,86.67 574.5,86.64 575.0,86.61 575.5,86.58 576.0,86.55 576.5,86.51 577.0,86.48 577.5,86.45 578.0,86.41 578.5,86.37 579.0,86.33 579.5,86.29 580.0,86.25 580.5,86.21 581.0,86.16 581.5,86.12 582.0,86.07 582.5,86.02 583.0,85.97 583.5,85.92 584.0,85.86 584.5,85.81 585.0,85.75 585.5,85.69 586.0,85.62 586.5,85.56 587.0,85.49 587.5,85.42 588.0,85.35 588.5,85.27 589.0,85.19 589.5,85.10 590.0,85.02 590.5,84.93 591.0,84.83 591.5,84.73 592.0,84.63 592.5,84.52 593.0,84.41 593.5,84.29 594.0,84.17 594.5,84.04 595.0,83.91 595.5,83.77 596.0,83.62 596.5,83.46 597.0,83.30 597.5,83.13 598.0,82.95 598.5,82.76 599.0,82.56 599.5,82.35 600.0,82.13 600.5,81.90 601.0,81.66 601.5,81.40 602.0,81.12 602.5,80.84 603.0,80.53 603.5,80.21 604.0,79.87 604.5,79.51 605.0,79.13 605.5,78.73 606.0,78.30 606.5,77.85 607.0,77.38 607.5,76.87 608.0,76.34 608.5,75.77 609.0,75.18 609.5,74.55 610.0,73.88 610.5,73.18 611.0,72.45 611.5,71.68 612.0,70.87 612.5,70.03 613.0,69.16 613.5,68.26 614.0,67.33 614.5,66.38 615.0,65.42 615.5,64.45 616.0,63.49 616.5,62.54 617.0,61.63 617.5,60.75 618.0,59.94 618.5,59.20 619.0,58.55 619.5,58.00 620.0,57.58 620.5,57.28 621.0,57.13 621.5,57.11 622.0,57.24 622.5,57.51 623.0,57.91 623.5,58.43 624.0,59.06 624.5,59.78 625.0,60.58 625.5,61.45 626.0,62.36 626.5,63.30 627.0,64.26 627.5,65.23 628.0,66.19 628.5,67.14 629.0,68.08 629.5,68.98 630.0,69.86 630.5,70.71 631.0,71.52 631.5,72.30 632.0,73.04 632.5,73.75 633.0,74.42 633.5,75.05 634.0,75.66 634.5,76.23 635.0,76.77 635.5,77.28 636.0,77.76 636.5,78.22 637.0,78.65 637.5,79.05 638.0,79.44 638.5,79.80 639.0,80.14 639.5,80.47 640.0,80.78 640.5,81.07 641.0,81.34 641.5,81.60 642.0,81.85 642.5,82.09 643.0,82.31 643.5,82.52 644.0,82.72 644.5,82.91 645.0,83.09 645.5,83.27 646.0,83.43 646.5,83.59 647.0,83.74 647.5,83.88 648.0,84.02 648.5,84.15 649.0,84.27 649.5,84.39 650.0,84.50 650.5,84.61 651.0,84.71 651.5,84.81 652.0,84.91 652.5,85.00 653.0,85.09 653.5,85.17 654.0,85.25 654.5,85.33 655.0,85.40 655.5,85.48 656.0,85.54 656.5,85.61 657.0,85.67 657.5,85.74 658.0,85.80 658.5,85.85 659.0,85.91 659.5,85.96 660.0,86.01 660.5,86.06 661.0,86.11 661.5,86.16 662.0,86.20 662.5,86.24 663.0,86.28 663.5,86.33 664.0,86.36 664.5,86.40 665.0,86.44 665.5,86.47 666.0,86.51 666.5,86.54 667.0,86.57 667.5,86.60 668.0,86.64 668.5,86.66 669.0,86.69 669.5,86.72 670.0,86.75 670.5,86.77 671.0,86.80 671.5,86.82 672.0,86.85 672.5,86.87 673.0,86.89 673.5,86.92 674.0,86.94 674.5,86.96 675.0,86.98 675.5,87.00 676.0,87.02 676.5,87.04 677.0,87.06 677.5,87.07 678.0,87.09 678.5,87.11 679.0,87.12 679.5,87.14 680.0,87.16 680.5,87.17 681.0,87.19 681.5,87.20 682.0,87.22 682.5,87.23 683.0,87.24 683.5,87.26 684.0,87.27 684.5,87.28 685.0,87.30" fill="none" stroke="#f7b46a" stroke-width="1.1"/>
<path d="M497.5,86.6h0.01M500.3,86.4h0.01M503.1,86.2h0.01M505.9,86.0h0.01M508.7,85.7h0.01M511.5,85.4h0.01M514.2,84.9h0.01M517.0,84.4h0.01M519.7,83.8h0.01M522.4,83.0h0.01M525.1,82.0h0.01M527.7,80.7h0.01M530.1,79.1h0.01M532.3,77.2h0.01M534.4,75.0h0.01M536.1,72.6h0.01M537.7,70.0h0.01M539.0,67.4h0.01M540.2,64.7h0.01M541.3,62.0h0.01M542.2,59.3h0.01M543.2,56.6h0.01M544.1,53.9h0.01M544.9,51.2h0.01M545.8,48.7h0.01M546.8,46.3h0.01M548.0,44.2h0.01M549.7,43.1h0.01M552.4,46.8h0.01M553.5,49.7h0.01M554.4,52.4h0.01M555.3,55.1h0.01M556.2,57.7h0.01M557.1,60.3h0.01M558.1,62.8h0.01M559.1,65.3h0.01M560.2,67.8h0.01M561.4,70.1h0.01M562.7,72.4h0.01M564.3,74.5h0.01M566.0,76.5h0.01M567.9,78.3h0.01M570.1,79.9h0.01M572.5,81.3h0.01M575.0,82.4h0.01M577.6,83.3h0.01M580.2,84.0h0.01M583.0,84.6h0.01M585.7,85.1h0.01M588.5,85.5h0.01M591.3,85.8h0.01M594.0,86.1h0.01M596.8,86.3h0.01M599.6,86.5h0.01M602.4,86.6h0.01M605.2,86.8h0.01M608.0,86.9h0.01M610.8,87.0h0.01M613.6,87.1h0.01M616.4,87.2h0.01" stroke="#152033" stroke-width="2.35" stroke-linecap="round" fill="none"/>
<path d="M497.5,87.1h0.01M499.8,87.1h0.01M502.1,87.0h0.01M504.4,86.9h0.01M506.7,86.8h0.01M509.0,86.6h0.01M511.3,86.5h0.01M513.6,86.3h0.01M515.9,86.1h0.01M518.2,85.9h0.01M520.4,85.6h0.01M522.7,85.3h0.01M525.0,84.9h0.01M527.3,84.5h0.01M529.5,83.9h0.01M531.7,83.2h0.01M533.9,82.4h0.01M536.0,81.4h0.01M538.1,80.2h0.01M540.0,78.8h0.01M541.7,77.2h0.01M543.4,75.4h0.01M544.8,73.5h0.01M546.2,71.5h0.01M547.4,69.4h0.01M548.5,67.3h0.01M549.6,65.3h0.01M550.6,63.2h0.01M551.7,61.2h0.01M552.8,59.3h0.01M554.0,57.7h0.01M555.6,56.6h0.01M557.9,57.6h0.01M559.5,59.8h0.01M560.7,61.9h0.01M561.7,64.0h0.01M562.8,66.0h0.01M563.8,68.0h0.01M564.9,70.0h0.01M566.1,71.9h0.01M567.3,73.7h0.01M568.7,75.4h0.01M570.2,77.1h0.01M571.8,78.6h0.01M573.5,79.9h0.01M575.4,81.1h0.01M577.5,82.1h0.01M579.5,83.0h0.01M581.7,83.7h0.01M583.9,84.3h0.01M586.1,84.8h0.01M588.4,85.2h0.01M590.7,85.5h0.01M593.0,85.8h0.01M595.2,86.0h0.01M597.5,86.2h0.01M599.8,86.4h0.01M602.1,86.6h0.01M604.4,86.7h0.01M606.7,86.8h0.01M609.0,86.9h0.01M611.3,87.0h0.01M613.6,87.1h0.01M615.9,87.2h0.01" stroke="#7e0c16" stroke-width="2.35" stroke-linecap="round" fill="none"/>
<path d="M538.5,86.3h0.01M541.0,86.1h0.01M543.5,85.9h0.01M546.0,85.6h0.01M548.5,85.3h0.01M550.9,84.9h0.01M553.4,84.5h0.01M555.8,83.9h0.01M558.3,83.3h0.01M560.7,82.4h0.01M563.0,81.4h0.01M565.2,80.2h0.01M567.4,78.7h0.01M569.3,76.9h0.01M571.1,75.0h0.01M572.7,72.8h0.01M574.0,70.6h0.01M575.3,68.3h0.01M576.4,65.9h0.01M577.4,63.5h0.01M578.3,61.1h0.01M579.2,58.6h0.01M580.0,56.2h0.01M580.8,53.9h0.01M581.6,51.5h0.01M582.4,49.2h0.01M583.2,47.0h0.01M584.2,45.0h0.01M585.4,43.4h0.01M587.5,43.9h0.01M589.1,46.7h0.01M590.1,49.2h0.01M590.9,51.7h0.01M591.7,54.1h0.01M592.5,56.4h0.01M593.3,58.8h0.01M594.1,61.1h0.01M595.0,63.4h0.01M595.9,65.6h0.01M596.9,67.8h0.01M598.0,69.9h0.01M599.2,72.0h0.01M600.5,73.9h0.01M602.0,75.8h0.01M603.6,77.5h0.01M605.5,79.0h0.01M607.5,80.4h0.01M609.6,81.5h0.01M611.9,82.5h0.01M614.2,83.3h0.01M616.6,83.9h0.01M619.0,84.5h0.01M621.5,84.9h0.01M623.9,85.3h0.01M626.4,85.6h0.01M628.9,85.9h0.01M631.4,86.1h0.01M633.9,86.3h0.01M636.4,86.5h0.01M638.9,86.6h0.01M641.4,86.8h0.01M643.9,86.9h0.01M646.4,87.0h0.01M648.9,87.0h0.01M651.3,87.1h0.01M653.8,87.2h0.01" stroke="#3b70c2" stroke-width="2.35" stroke-linecap="round" fill="none"/>
<path d="M538.5,87.0h0.01M540.9,86.9h0.01M543.3,86.8h0.01M545.7,86.6h0.01M548.1,86.5h0.01M550.5,86.3h0.01M552.9,86.1h0.01M555.3,85.8h0.01M557.6,85.5h0.01M560.0,85.2h0.01M562.4,84.7h0.01M564.7,84.2h0.01M567.1,83.6h0.01M569.4,82.8h0.01M571.6,81.8h0.01M573.8,80.6h0.01M575.8,79.2h0.01M577.7,77.6h0.01M579.4,75.7h0.01M581.0,73.8h0.01M582.4,71.7h0.01M583.7,69.5h0.01M584.9,67.4h0.01M586.0,65.2h0.01M587.1,63.1h0.01M588.2,61.1h0.01M589.4,59.2h0.01M590.8,57.6h0.01M592.8,57.2h0.01M595.0,59.2h0.01M596.4,61.5h0.01M597.6,63.7h0.01M598.7,65.8h0.01M599.8,67.9h0.01M600.9,69.9h0.01M602.2,71.9h0.01M603.5,73.8h0.01M604.9,75.6h0.01M606.4,77.3h0.01M608.1,78.8h0.01M610.0,80.2h0.01M612.0,81.4h0.01M614.1,82.4h0.01M616.3,83.2h0.01M618.6,83.9h0.01M620.9,84.5h0.01M623.3,85.0h0.01M625.6,85.4h0.01M628.0,85.7h0.01M630.4,86.0h0.01M632.8,86.2h0.01M635.2,86.4h0.01M637.6,86.6h0.01M640.0,86.7h0.01M642.4,86.8h0.01M644.8,86.9h0.01M647.1,87.0h0.01M649.5,87.1h0.01M651.9,87.2h0.01M654.3,87.3h0.01" stroke="#a3182e" stroke-width="2.35" stroke-linecap="round" fill="none"/>
<path d="M557.5,86.9h0.01M560.0,86.7h0.01M562.5,86.6h0.01M565.0,86.5h0.01M567.5,86.3h0.01M570.0,86.1h0.01M572.5,85.9h0.01M575.0,85.6h0.01M577.4,85.3h0.01M579.9,84.9h0.01M582.4,84.4h0.01M584.8,83.9h0.01M587.2,83.2h0.01M589.6,82.3h0.01M592.0,81.3h0.01M594.2,80.0h0.01M596.3,78.5h0.01M598.2,76.7h0.01M600.0,74.7h0.01M601.5,72.6h0.01M602.9,70.3h0.01M604.1,68.0h0.01M605.2,65.6h0.01M606.2,63.2h0.01M607.1,60.8h0.01M608.0,58.4h0.01M608.8,56.0h0.01M609.6,53.6h0.01M610.3,51.2h0.01M611.2,48.9h0.01M612.0,46.7h0.01M613.0,44.7h0.01M614.3,43.3h0.01M616.5,44.3h0.01M617.9,47.0h0.01M618.9,49.5h0.01M619.7,52.0h0.01M620.5,54.4h0.01M621.3,56.7h0.01M622.1,59.1h0.01M622.9,61.4h0.01M623.8,63.6h0.01M624.7,65.9h0.01M625.7,68.0h0.01M626.8,70.2h0.01M628.0,72.2h0.01M629.4,74.1h0.01M630.9,76.0h0.01M632.6,77.7h0.01M634.4,79.2h0.01M636.4,80.5h0.01M638.6,81.6h0.01M640.8,82.6h0.01M643.2,83.4h0.01M645.6,84.0h0.01M648.0,84.5h0.01M650.5,85.0h0.01M652.9,85.4h0.01M655.4,85.7h0.01M657.9,85.9h0.01M660.4,86.1h0.01M662.9,86.3h0.01M665.4,86.5h0.01M667.9,86.6h0.01M670.4,86.8h0.01M672.9,86.9h0.01M675.4,87.0h0.01M677.9,87.1h0.01" stroke="#4a85cc" stroke-width="2.35" stroke-linecap="round" fill="none"/>
<path d="M557.5,87.3h0.01M560.0,87.2h0.01M562.5,87.2h0.01M565.0,87.1h0.01M567.5,87.0h0.01M570.0,86.9h0.01M572.5,86.8h0.01M575.0,86.6h0.01M577.5,86.4h0.01M580.0,86.3h0.01M582.5,86.0h0.01M585.0,85.8h0.01M587.4,85.4h0.01M589.9,85.0h0.01M592.4,84.6h0.01M594.8,84.0h0.01M597.2,83.2h0.01M599.6,82.3h0.01M601.9,81.2h0.01M604.1,79.8h0.01M606.1,78.2h0.01M608.0,76.4h0.01M609.7,74.3h0.01M611.2,72.2h0.01M612.5,70.0h0.01M613.8,67.7h0.01M615.0,65.5h0.01M616.1,63.2h0.01M617.3,61.1h0.01M618.5,59.1h0.01M620.0,57.6h0.01M622.1,57.3h0.01M624.3,59.5h0.01M625.7,61.9h0.01M626.9,64.1h0.01M628.1,66.4h0.01M629.2,68.5h0.01M630.5,70.6h0.01M631.7,72.7h0.01M633.1,74.6h0.01M634.7,76.4h0.01M636.4,78.1h0.01M638.2,79.6h0.01M640.3,80.9h0.01M642.4,82.0h0.01M644.7,83.0h0.01M647.0,83.7h0.01M649.4,84.4h0.01M651.9,84.9h0.01M654.3,85.3h0.01M656.8,85.7h0.01M659.3,85.9h0.01M661.8,86.2h0.01M664.3,86.4h0.01M666.8,86.6h0.01M669.2,86.7h0.01M671.7,86.8h0.01M674.2,86.9h0.01M676.7,87.0h0.01" stroke="#e3161c" stroke-width="2.35" stroke-linecap="round" fill="none"/>
</g>
<rect x="490.45" y="113.7" width="192.95" height="76.75" fill="none" stroke="#1c1c1c" stroke-width="1.3"/>
<text x="476.0" y="113.1" font-size="17.6" text-anchor="start" class="lbl">d</text>
<text x="677.3" y="127.8" font-size="11.2" text-anchor="end" >ORD</text>
<path d="M490.45,134.5H493.15" stroke="#1c1c1c" stroke-width="1.1"/>
<text x="488.25" y="137.90" font-size="11.7" text-anchor="end" >2.5</text>
<path d="M490.45,169.5H493.15" stroke="#1c1c1c" stroke-width="1.1"/>
<text x="488.25" y="172.90" font-size="11.7" text-anchor="end" >1.5</text>
<path d="M531.3,190.45V187.85" stroke="#1c1c1c" stroke-width="1.1"/>
<text x="531.3" y="202.2" font-size="11.7" text-anchor="middle" >−<tspan dx="0.8">240</tspan></text>
<path d="M624.15,190.45V187.85" stroke="#1c1c1c" stroke-width="1.1"/>
<text x="624.15" y="202.2" font-size="11.7" text-anchor="middle" >−<tspan dx="0.8">190</tspan></text>
<text transform="translate(466.2,151.3) rotate(-90)" font-size="11.5" text-anchor="middle">Δ<tspan font-style="italic">φ</tspan> (deg)</text>
<path d="M553.80,146.80V150.20M552.10,146.80H555.50M552.10,150.20H555.50M584.60,146.30V148.80M582.90,146.30H586.30M582.90,148.80H586.30M622.50,146.90V149.70M620.80,146.90H624.20M620.80,149.70H624.20" fill="none" stroke="#1C7C32" stroke-width="1.9"/>
<text x="553.6" y="140.8" font-size="8.2" text-anchor="start" >0.04 pm</text>
<path d="M552.7,141.5V144.89999999999998M552.7,143.2H559.8M557.2,141.29999999999998L559.9,143.2L557.2,145.1M584.7,141.5V144.89999999999998M584.7,143.2H578.0M580.6,141.29999999999998L577.9,143.2L580.6,145.1" stroke="#151515" stroke-width="1.0" fill="none"/>
<rect x="489.45" y="215.7" width="193.95" height="77.70" fill="none" stroke="#1c1c1c" stroke-width="1.3"/>
<text x="476.0" y="213.6" font-size="17.6" text-anchor="start" class="lbl">e</text>
<text x="672.9" y="229.6" font-size="11.2" text-anchor="end" >CD</text>
<path d="M489.45,236.9H492.15" stroke="#1c1c1c" stroke-width="1.1"/>
<text x="487.25" y="240.30" font-size="11.7" text-anchor="end" >−<tspan dx="0.8">5</tspan></text>
<path d="M489.45,271.9H492.15" stroke="#1c1c1c" stroke-width="1.1"/>
<text x="487.25" y="275.30" font-size="11.7" text-anchor="end" >−<tspan dx="0.8">7</tspan></text>
<path d="M530.55,293.4V290.79999999999995" stroke="#1c1c1c" stroke-width="1.1"/>
<text x="530.55" y="305.3" font-size="11.7" text-anchor="middle" >−<tspan dx="0.8">240</tspan></text>
<path d="M623.55,293.4V290.79999999999995" stroke="#1c1c1c" stroke-width="1.1"/>
<text x="623.55" y="305.3" font-size="11.7" text-anchor="middle" >−<tspan dx="0.8">190</tspan></text>
<text x="586.4" y="322.4" font-size="11.75" text-anchor="middle" ><tspan font-style="italic">ν</tspan>−<tspan font-style="italic">ν</tspan><tspan font-size="8" dy="2">4</tspan><tspan dy="-2"> (MHz)</tspan></text>
<text transform="translate(468.4,271.2) rotate(-90) scale(0.927,1)" font-size="10.9">ΔA×10<tspan font-size="7.6" dy="-4.2">−3</tspan></text>
<path d="M552.80,254.60V259.90M551.10,254.60H554.50M551.10,259.90H554.50M583.80,261.20V263.20M582.10,261.20H585.50M582.10,263.20H585.50M622.20,259.80V265.00M620.50,259.80H623.90M620.50,265.00H623.90" fill="none" stroke="#1C7C32" stroke-width="1.9"/>
<text x="552.8" y="246.1" font-size="8.2" text-anchor="start" >0.04 pm</text>
<path d="M552.7,248.20000000000002V251.6M552.7,249.9H559.8M557.2,248.0L559.9,249.9L557.2,251.8M584.7,248.20000000000002V251.6M584.7,249.9H578.0M580.6,248.0L577.9,249.9L580.6,251.8" stroke="#151515" stroke-width="1.0" fill="none"/>
</svg>
</body></html>
